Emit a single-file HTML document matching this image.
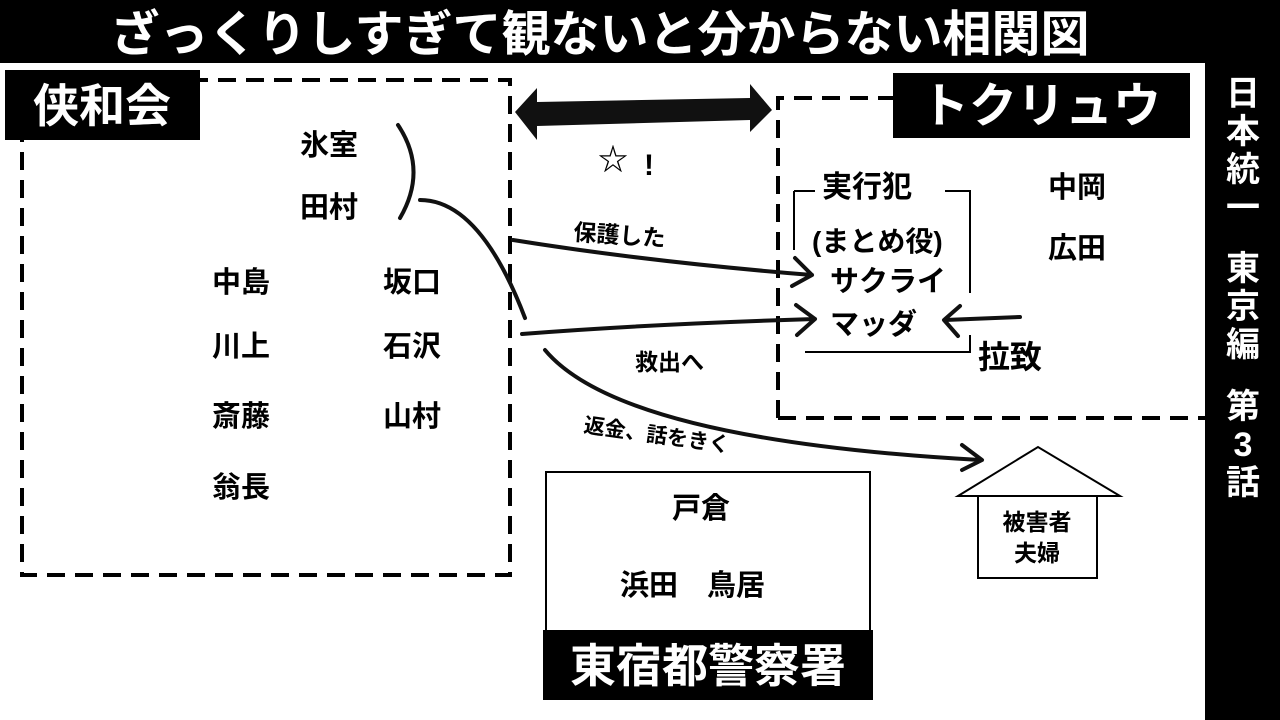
<!DOCTYPE html>
<html><head><meta charset="utf-8"><style>
html,body{margin:0;padding:0;background:#fff;width:1280px;height:720px;overflow:hidden}
svg text{font-family:"Liberation Sans","Noto Sans CJK JP",sans-serif;font-weight:bold}
</style></head><body>
<svg width="1280" height="720" viewBox="0 0 1280 720" xmlns="http://www.w3.org/2000/svg">
<rect x="0" y="0" width="1280" height="63" fill="#000"/>
<text x="600" y="51" font-size="49" fill="#fff" text-anchor="middle" font-family="'Noto Serif CJK SC',serif">ざっくりしすぎて観ないと分からない相関図</text>
<rect x="1205" y="0" width="75" height="720" fill="#000"/>
<g fill="#fff" font-size="34" text-anchor="middle">
<text x="1243" y="105">日</text><text x="1243" y="143">本</text><text x="1243" y="181">統</text><text x="1243" y="219">一</text>
<text x="1243" y="280">東</text><text x="1243" y="318">京</text><text x="1243" y="356">編</text>
<text x="1243" y="418">第</text><text x="1243" y="456">3</text><text x="1243" y="494">話</text>
</g>
<g fill="none" stroke="#000" stroke-width="4" stroke-dasharray="18,10">
<rect x="22" y="80" width="488" height="495"/>
<path d="M778 418 V98 H895"/>
<path d="M778 418 H1205"/>
</g>
<rect x="5" y="70" width="195" height="70" fill="#000"/>
<text x="102" y="122" font-size="46" fill="#fff" text-anchor="middle" font-family="'Noto Serif CJK SC',serif">侠和会</text>
<rect x="893" y="73" width="297" height="65" fill="#000"/>
<text x="1041" y="122" font-size="48" fill="#fff" text-anchor="middle" font-family="'Noto Serif CJK SC',serif">トクリュウ</text>
<g font-size="29" fill="#000">
<text x="300" y="155">氷室</text><text x="300" y="217">田村</text>
<text x="212" y="292">中島</text><text x="212" y="356">川上</text><text x="212" y="426">斎藤</text><text x="212" y="497">翁長</text>
<text x="383" y="292">坂口</text><text x="383" y="356">石沢</text><text x="383" y="426">山村</text>
<text x="1048" y="197">中岡</text><text x="1048" y="258">広田</text>
<text x="822" y="197" font-size="30">実行犯</text>
<text x="812" y="251" font-size="28">(まとめ役)</text>
<text x="830" y="291">サクライ</text><text x="830" y="334">マッダ</text>
<text x="672" y="518">戸倉</text><text x="620" y="595">浜田　鳥居</text>
<text x="978" y="368" font-size="32">拉致</text>
<text x="573" y="240" font-size="23" transform="rotate(4 573 240)">保護した</text>
<text x="635" y="370" font-size="23">救出へ</text>
<text x="583" y="432" font-size="21" transform="rotate(8 583 432)">返金、話をきく</text>
</g>
<g fill="none" stroke="#000" stroke-width="2">
<path d="M794 191 V250 M794 191 H815 M945 191 H970 V293 M970 335 V352 H805"/>
<rect x="546" y="472" width="324" height="160"/>
</g>
<rect x="543" y="630" width="330" height="70" fill="#000"/>
<text x="708" y="682" font-size="46" fill="#fff" text-anchor="middle" font-family="'Noto Serif CJK SC',serif">東宿都警察署</text>
<path d="M958 496 L1038 447 L1120 496 Z" fill="#fff" stroke="#000" stroke-width="2"/>
<rect x="978" y="496" width="119" height="82" fill="#fff" stroke="#000" stroke-width="2"/>
<text x="1037" y="530" font-size="23" text-anchor="middle">被害者</text>
<text x="1037" y="561" font-size="23" text-anchor="middle">夫婦</text>
<path d="M515 112 L537 88 L537 102 L750 98 L750 84 L772 110 L750 132 L750 120 L537 126 L537 140 Z" fill="#111"/>
<text x="598" y="170" font-size="30" fill="#000">☆</text>
<text x="644" y="175" font-size="30" fill="#000">!</text>
<g fill="none" stroke="#111" stroke-width="4" stroke-linecap="round" stroke-linejoin="round">
<path d="M398 125 Q428 170 400 218"/>
<path d="M420 200 Q480 200 525 318"/>
<path d="M513 240 Q650 262 812 275 M795 258 L812 275 L792 286"/>
<path d="M522 334 Q650 324 815 319 M796 305 L815 319 L797 335"/>
<path d="M545 350 Q620 440 980 460 M962 445 L982 460 L962 470"/>
<path d="M1020 317 L945 320 M960 306 L944 320 L958 336"/>
</g>
</svg>
</body></html>
